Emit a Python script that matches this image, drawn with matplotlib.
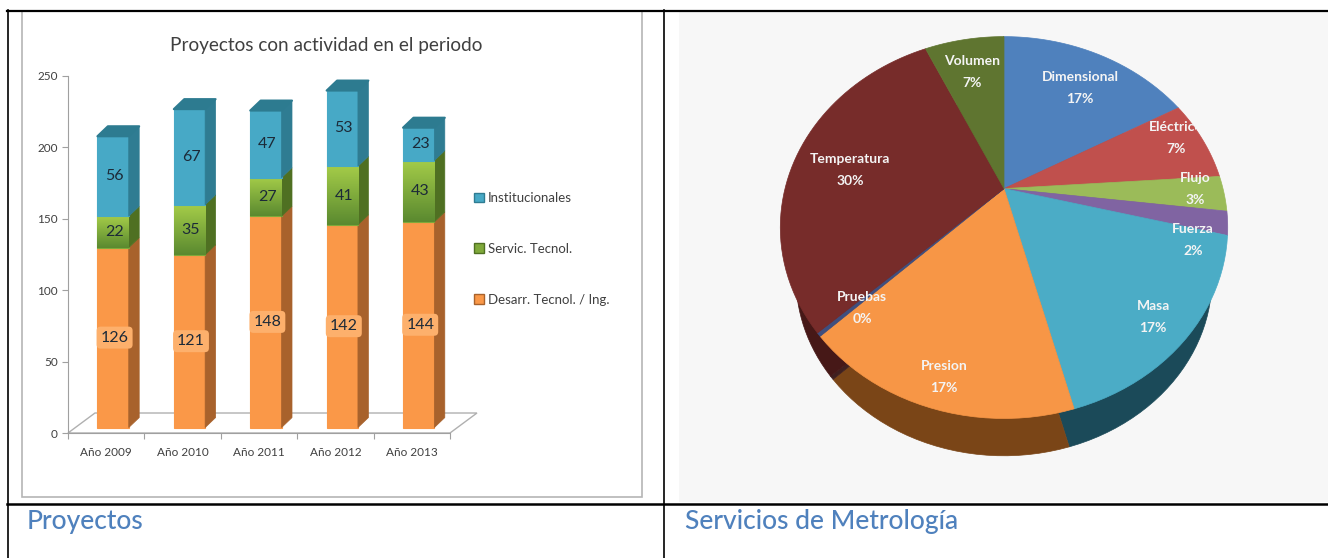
import matplotlib
matplotlib.use("Agg")
import matplotlib.pyplot as plt
import numpy as np
from matplotlib.colors import LinearSegmentedColormap
from matplotlib.patches import Patch, Rectangle
from matplotlib.path import Path
from matplotlib.transforms import Affine2D, Bbox, Transform

plt.rcParams["font.family"] = ["Lato", "DejaVu Sans"]

years = ["Año 2009", "Año 2010", "Año 2011", "Año 2012", "Año 2013"]
desarr = [126, 121, 148, 142, 144]
servic = [22, 35, 27, 41, 43]
instit = [56, 67, 47, 53, 23]
series_names = ["Desarr. Tecnol. / Ing.", "Servic. Tecnol.", "Institucionales"]

pie_names = ["Dimensional", "Eléctrico", "Flujo", "Fuerza", "Masa", "Presion",
             "Pruebas", "Temperatura", "Volumen"]
pie_vals = [17, 7, 3, 2, 17, 17, 0.3, 30, 7]

W, H = 1328, 558


def px_axes(fig, x0, y0, x1, y1):
    # axes box given in image pixels, y going down
    return fig.add_axes([x0 / W, 1 - y1 / H, (x1 - x0) / W, (y1 - y0) / H])


class Tilt(Transform):
    # perspective of a unit circle lying on a table, result in pixels
    input_dims = output_dims = 2
    has_inverse = False

    def __init__(self, scale=1.0):
        super().__init__()
        self.scale = scale

    def transform_non_affine(self, xy):
        xy = np.asarray(xy, dtype=float)
        w = 1 + 0.204 * xy[:, 1]
        return np.c_[219 * self.scale * xy[:, 0] / w, 183 * self.scale * xy[:, 1] / w]

    def transform_path_non_affine(self, path):
        pts = []
        for seg, code in path.iter_bezier():
            pts.extend(seg(np.linspace(0, 1, 14)))
        return Path(self.transform_non_affine(np.array(pts)))


fig = plt.figure(figsize=(W / 100, H / 100), dpi=100, facecolor="white")

# page layer: table lines, panels and captions
page = fig.add_axes([0, 0, 1, 1], zorder=0)
page.set_xlim(0, W)
page.set_ylim(H, 0)
page.axis("off")
page.add_patch(Rectangle((21.5, 11), 620, 485.5, fc="white", ec="#b5b5b5", lw=1.2))
page.add_patch(Rectangle((679, 11), 649, 491, fc="#f7f7f7", ec="none"))
page.plot([7, W], [10.5, 10.5], color="black", lw=1.6)
page.plot([7, W], [503.5, 503.5], color="black", lw=1.8)
page.plot([7.5, 7.5], [10, H], color="black", lw=1.2)
page.plot([664, 664], [10, H], color="black", lw=1.2)
page.text(27, 521, "Proyectos", color="#4f81bd", fontsize=19, va="center", fontweight="medium")
page.text(685, 521, "Servicios de Metrología", color="#4f81bd", fontsize=19, va="center", fontweight="medium")
page.text(326, 45, "Proyectos con actividad en el periodo", color="#404040", fontsize=13.7, ha="center", va="center")

# stacked bars
ax = px_axes(fig, 68, 76, 450, 433)
ax.set_zorder(1)
ax.patch.set_alpha(0)
x = np.arange(len(years))
bar_w, shift, lift = 0.41, 0.09, 3.8
dx, dy = 0.137, 7.0

floor_dx, floor_dy = 0.353, 14.0
ax.fill([-0.5, 4.5, 4.5 + floor_dx, -0.5 + floor_dx], [0, 0, floor_dy, floor_dy],
        fc="white", ec="#b0b0b0", lw=1, clip_on=False, zorder=1)

fronts = ["#fa9848", "#7fa93a", "#47a9c6"]
sides = ["#a8622c", "#4f7022", "#2f7c92"]
tops = "#2d7b90"
green_map = LinearSegmentedColormap.from_list("green", ["#a3cb48", "#5b8a30"])

bottom = np.zeros(len(years)) + lift
for i, vals in enumerate([desarr, servic, instit]):
    vals = np.array(vals)
    bars = ax.bar(x + shift, vals, bar_w, bottom=bottom, color=fronts[i],
                  edgecolor=fronts[i], lw=0.8, zorder=3 + i, clip_on=False)
    for b, v in zip(bars, vals):
        l, r = b.get_x(), b.get_x() + b.get_width()
        y0, y1 = b.get_y(), b.get_y() + b.get_height()
        ax.fill([r, r + dx, r + dx, r], [y0, y0 + dy, y1 + dy, y1], fc=sides[i], ec=sides[i],
                lw=0.5, zorder=3 + i, clip_on=False)
        if i == 1:
            im = ax.imshow(np.linspace(0, 1, 32)[:, None], cmap=green_map, extent=(l, r, y0, y1),
                           aspect="auto", zorder=3.5 + i)
            im.set_clip_path(b)
        if i == 2:
            ax.fill([l, l + dx, r + dx, r], [y1, y1 + dy, y1 + dy, y1], fc=tops, ec=tops,
                    lw=1.5, joinstyle="round", zorder=3 + i, clip_on=False)
        box = dict(boxstyle="round,pad=0.25", fc="#fdb06c", ec="none") if i == 0 else None
        ax.text((l + r) / 2 + 0.02, (y0 + y1) / 2, str(v), ha="center", va="center", fontsize=11.5,
                color="#1c2a38", bbox=box, zorder=10)
    bottom = bottom + vals

ax.set_xlim(-0.5, 4.5)
ax.set_ylim(0, 250)
ax.set_xticks(np.arange(-0.5, 5, 1))
ax.set_xticklabels([])
ax.set_xticks(x, years, minor=True)
ax.set_yticks(np.arange(0, 251, 50))
ax.tick_params(axis="x", which="major", length=4, color="#a0a0a0")
ax.tick_params(axis="x", which="minor", length=0, pad=10, labelsize=8.5, labelcolor="#404040")
ax.tick_params(axis="y", length=4, color="#a0a0a0", pad=3.5, labelsize=8.5, labelcolor="#404040")
for s in ["top", "right"]:
    ax.spines[s].set_visible(False)
for s in ["left", "bottom"]:
    ax.spines[s].set_color("#a0a0a0")

handles = [Patch(fc=fronts[i], ec=sides[i], label=series_names[i]) for i in [2, 1, 0]]
fig.legend(handles=handles, loc="upper left", bbox_to_anchor=(474 / W, 1 - 192 / H), frameon=False,
           fontsize=9.5, labelcolor="#404040", labelspacing=2.95, handlelength=0.75, handleheight=0.75,
           handletextpad=0.3, borderpad=0, borderaxespad=0)

# pie, drawn twice: dark rim first, then the top face
pax = px_axes(fig, 780, 20, 1228, 470)
pax.set_zorder(1)
pie_colors = ["#4f81bd", "#c0504d", "#9bbb59", "#8064a2", "#4bacc6", "#f79646", "#3f4f7f", "#772c2a", "#5f7530"]
rim_colors = ["#2f4d72", "#7a3230", "#5e7136", "#4d3c62", "#1b4a59", "#7a4517", "#3f2020", "#461817", "#39461d"]

rim, _ = pax.pie(pie_vals, colors=rim_colors, startangle=90, counterclock=False)
for w, c in zip(rim, rim_colors):
    w.set_transform(Tilt(0.93) + Affine2D().translate(0, -53.4) + pax.transData)
    w.set_edgecolor(c)
    w.set_linewidth(0.5)
    w.set_clip_on(False)
    w.set_zorder(1)

top, _ = pax.pie(pie_vals, colors=pie_colors, startangle=90, counterclock=False)
for w, c in zip(top, pie_colors):
    w.set_transform(Tilt() + pax.transData)
    w.set_edgecolor(c)
    w.set_linewidth(0.5)
    w.set_clip_on(False)
    w.set_zorder(2)

pax.set_aspect("auto")
pax.set_xlim(-224, 224)
pax.set_ylim(188.6 - 470, 188.6 - 20)

label_x = [1080, 1176, 1195, 1193, 1153, 944, 862, 850, 972]
label_y = [88, 138, 189, 240, 317, 377, 308, 170, 72]
for name, v, lx, ly in zip(pie_names, pie_vals, label_x, label_y):
    lbl = fig.text(lx / W, 1 - ly / H, f"{name}\n{round(v)}%", color="#f4f4f4", fontsize=10,
                   fontweight="bold", ha="center", va="center", linespacing=1.95, zorder=20)
    if name == "Eléctrico":
        lbl.set_clip_box(Bbox([[0, 0], [1196, H]]))
        lbl.set_clip_on(True)

fig.savefig("out.png", dpi=100)
plt.close(fig)
